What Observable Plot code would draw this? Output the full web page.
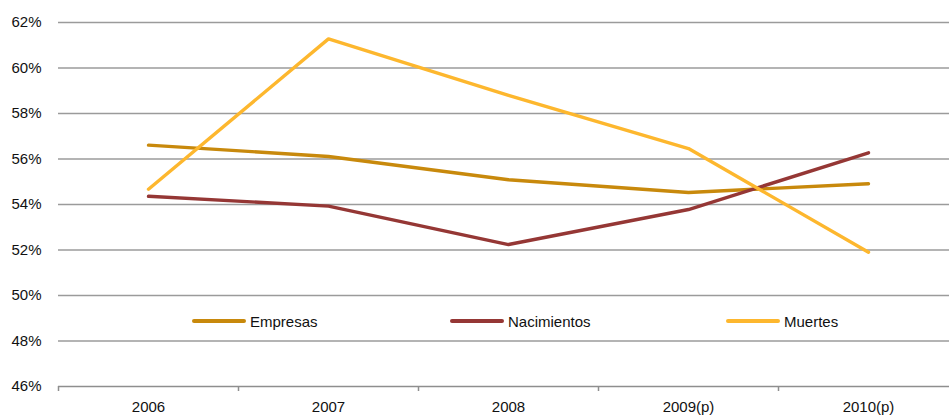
<!DOCTYPE html>
<html>
<head>
<meta charset="utf-8">
<script src="https://cdn.jsdelivr.net/npm/d3@7"></script>
<script src="https://cdn.jsdelivr.net/npm/@observablehq/plot@0.6"></script>
<style>
  html, body { margin: 0; padding: 0; background: #fff; }
  #wrap { position: relative; width: 949px; height: 417px; font-family: "Liberation Sans", Arial, sans-serif; }
  .leg { position: absolute; top: 310px; display: flex; align-items: center; font-size: 15px; color: #111; height: 22px; }
  .leg span.sw { display: inline-block; width: 54px; height: 4px; border-radius: 2px; margin-right: 4px; }
</style>
</head>
<body>
<div id="wrap"></div>
<script>
const years = ["2006", "2007", "2008", "2009(p)", "2010(p)"];
const empresas = [56.61, 56.11, 55.09, 54.53, 54.91];
const nacimientos = [54.36, 53.93, 52.24, 53.78, 56.27];
const muertes = [54.67, 61.28, 58.80, 56.46, 51.90];
const seriesNames = ["Empresas", "Nacimientos", "Muertes"];
const seriesColors = ["#C8890C", "#953735", "#FDB72E"];
const yTicks = [46, 48, 50, 52, 54, 56, 58, 60, 62];

const seriesValues = [empresas, nacimientos, muertes];
const data = [];
seriesNames.forEach((name, s) => {
  years.forEach((yr, i) => data.push({series: name, year: yr, value: seriesValues[s][i]}));
});

const chart = Plot.plot({
  width: 949,
  height: 417,
  marginLeft: 58,
  marginRight: 0,
  marginTop: 22,
  marginBottom: 31,
  style: {fontFamily: "'Liberation Sans', Arial, sans-serif", fontSize: "15px", color: "#111", background: "#fff"},
  x: {type: "point", domain: years, range: [58, 958], padding: 0.5, label: null},
  y: {domain: [46, 62], label: null},
  color: {domain: seriesNames, range: seriesColors},
  marks: [
    Plot.ruleY(yTicks.filter(d => d > 46), {stroke: "#9b9b9b", strokeWidth: 1.6}),
    Plot.ruleY([46], {stroke: "#8e8e8e", strokeWidth: 1.6}),
    Plot.ruleX(years, {x: d => d, y1: 46, y2: 46, dx: -90, insetBottom: -5, stroke: "#8e8e8e", strokeWidth: 1.5}),
    Plot.axisY({ticks: yTicks, tickSize: 0, tickPadding: 17, tickFormat: d => d + "%", fontSize: 15, fill: "#111"}),
    Plot.axisX({tickSize: 0, tickPadding: 15, fontSize: 15, fill: "#111"}),
    Plot.line(data, {x: "year", y: "value", z: "series", stroke: "series", strokeWidth: 3.4, strokeLinejoin: "round", strokeLinecap: "round"})
  ]
});
const wrap = document.getElementById("wrap");
wrap.appendChild(chart);

const legendLeft = [192, 450, 726];
seriesNames.forEach((name, i) => {
  const item = document.createElement("div");
  item.className = "leg";
  item.style.left = legendLeft[i] + "px";
  item.innerHTML = `<span class="sw" style="background:${seriesColors[i]}"></span>${name}`;
  wrap.appendChild(item);
});
</script>
</body>
</html>
